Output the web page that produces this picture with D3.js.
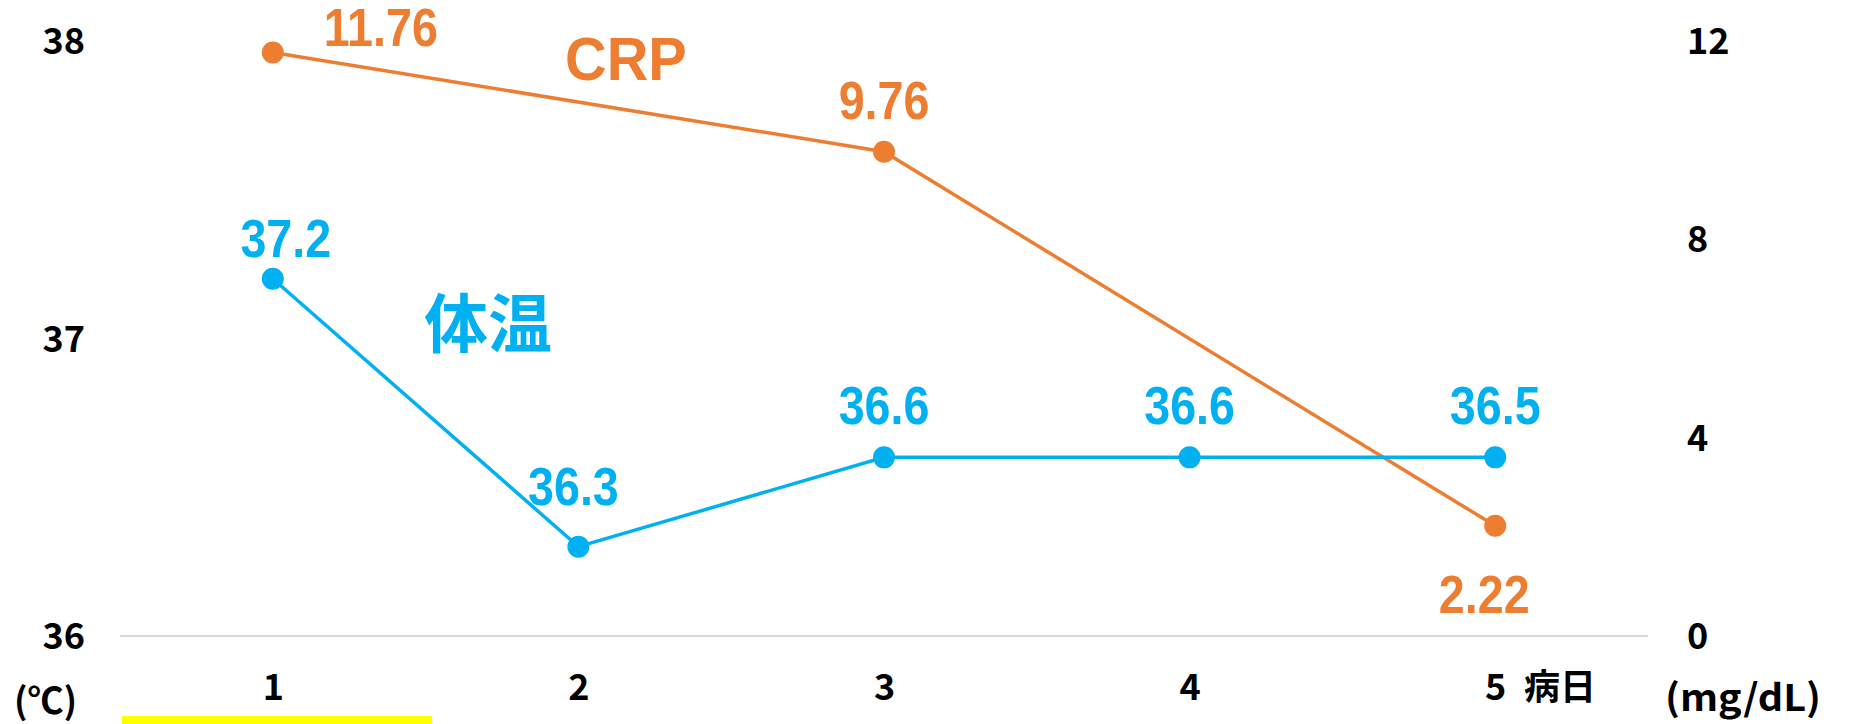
<!DOCTYPE html>
<html>
<head>
<meta charset="utf-8">
<script src="https://cdn.jsdelivr.net/npm/d3@7"></script>
<style>
  html, body { margin: 0; padding: 0; background: #ffffff; }
  svg { display: block; }
</style>
</head>
<body>
<svg id="chart" width="1849" height="724"></svg>
<script>
// ---- data ----
const days = ["1", "2", "3", "4", "5"];
const tempValues = [37.2, 36.3, 36.6, 36.6, 36.6];
const tempLabels = ["37.2", "36.3", "36.6", "36.6", "36.5"];
const crpValues = [11.76, null, 9.76, null, 2.22];
const crpLabels = ["11.76", "", "9.76", "", "2.22"];
const tempTicks = [36, 37, 38];
const crpTicks = [0, 4, 8, 12];

// ---- layout (not data) ----
const plotLeft = 120, plotRight = 1648, plotTop = 40.5, plotBottom = 636;
const tempNudge = [[13, -22], [-5, -42], [0, -33], [0, -33], [0, -33]];
const crpNudge = [[108, -6], [0, 0], [0, -33], [0, 0], [-11, 87]];
const BLUE = "#00B0F0", ORANGE = "#ED7D31";
const tickFont = "'Noto Sans CJK JP', 'Noto Sans', sans-serif";
const labelFont = "'Liberation Sans Narrow', 'Arial Narrow', 'Liberation Sans', Arial, sans-serif";
const condense = 0.88;

const svg = d3.select("#chart");

const x = d3.scalePoint().domain(days).range([plotLeft, plotRight]).padding(0.5);
const yT = d3.scaleLinear().domain([36, 38]).range([plotBottom, plotTop]);
const yC = d3.scaleLinear().domain([0, 12]).range([plotBottom, plotTop]);

// bottom axis
const gx = svg.append("g")
  .attr("transform", `translate(0,${plotBottom})`)
  .call(d3.axisBottom(x).tickSize(0).tickPadding(38));
gx.select(".domain").attr("stroke", "#d9d9d9").attr("stroke-width", 2)
  .attr("d", `M${plotLeft},0H${plotRight}`);
gx.selectAll("text").attr("font-family", tickFont).attr("font-size", 36)
  .attr("font-weight", 700).attr("fill", "#000");

// left axis
const gl = svg.append("g")
  .attr("transform", `translate(85,0)`)
  .call(d3.axisLeft(yT).tickValues(tempTicks).tickSize(0).tickPadding(0).tickFormat(d3.format("d")));
gl.select(".domain").remove();
gl.selectAll("text").attr("font-family", tickFont).attr("font-size", 36)
  .attr("font-weight", 700).attr("fill", "#000").attr("dy", "0.36em");

// right axis
const gr = svg.append("g")
  .attr("transform", `translate(1687,0)`)
  .call(d3.axisRight(yC).tickValues(crpTicks).tickSize(0).tickPadding(0).tickFormat(d3.format("d")));
gr.select(".domain").remove();
gr.selectAll("text").attr("font-family", tickFont).attr("font-size", 36)
  .attr("font-weight", 700).attr("fill", "#000").attr("dy", "0.36em");

// unit labels
svg.append("text").attr("x", 14).attr("y", 714)
  .attr("font-family", tickFont).attr("font-size", 36).attr("font-weight", 700)
  .text("(℃)");
svg.append("text").attr("x", 1665).attr("y", 711)
  .attr("font-family", tickFont).attr("font-size", 37).attr("font-weight", 700)
  .attr("textLength", 156).attr("lengthAdjust", "spacingAndGlyphs")
  .text("(mg/dL)");
svg.append("text").attr("x", 1524).attr("y", 700)
  .attr("font-family", tickFont).attr("font-size", 36).attr("font-weight", 700)
  .text("病日");

// yellow highlight
svg.append("rect").attr("x", 122).attr("y", 716).attr("width", 310).attr("height", 10)
  .attr("fill", "#FFFF00");

// lines
const tempData = days.map((d, i) => ({ d, v: tempValues[i], label: tempLabels[i], n: tempNudge[i] }));
const crpData = days.map((d, i) => ({ d, v: crpValues[i], label: crpLabels[i], n: crpNudge[i] }))
  .filter(p => p.v !== null);

const lineT = d3.line().x(p => x(p.d)).y(p => yT(p.v));
const lineC = d3.line().x(p => x(p.d)).y(p => yC(p.v));

svg.append("path").datum(crpData).attr("d", lineC)
  .attr("fill", "none").attr("stroke", ORANGE).attr("stroke-width", 3.5);
svg.append("path").datum(tempData).attr("d", lineT)
  .attr("fill", "none").attr("stroke", BLUE).attr("stroke-width", 3.5);

svg.selectAll("circle.crp").data(crpData).enter().append("circle")
  .attr("class", "crp").attr("cx", p => x(p.d)).attr("cy", p => yC(p.v)).attr("r", 11)
  .attr("fill", ORANGE);
svg.selectAll("circle.temp").data(tempData).enter().append("circle")
  .attr("class", "temp").attr("cx", p => x(p.d)).attr("cy", p => yT(p.v)).attr("r", 11)
  .attr("fill", BLUE);

// data labels
svg.selectAll("text.crpLab").data(crpData).enter().append("text")
  .attr("class", "crpLab")
  .attr("transform", p => `translate(${x(p.d) + p.n[0]},${yC(p.v) + p.n[1]}) scale(${condense},1)`)
  .attr("text-anchor", "middle").attr("font-family", labelFont)
  .attr("font-size", 53).attr("font-weight", 700).attr("fill", ORANGE)
  .text(p => p.label);
svg.selectAll("text.tempLab").data(tempData).enter().append("text")
  .attr("class", "tempLab")
  .attr("transform", p => `translate(${x(p.d) + p.n[0]},${yT(p.v) + p.n[1]}) scale(${condense},1)`)
  .attr("text-anchor", "middle").attr("font-family", labelFont)
  .attr("font-size", 53).attr("font-weight", 700).attr("fill", BLUE)
  .text(p => p.label);

// series titles
svg.append("text").attr("transform", "translate(565,80) scale(0.93,1)")
  .attr("font-family", "'Liberation Sans', Arial, sans-serif").attr("font-size", 62)
  .attr("font-weight", 700).attr("fill", ORANGE).text("CRP");
svg.append("text").attr("x", 424).attr("y", 347)
  .attr("font-family", tickFont).attr("font-size", 64).attr("font-weight", 700)
  .attr("fill", BLUE).text("体温");
</script>
</body>
</html>
